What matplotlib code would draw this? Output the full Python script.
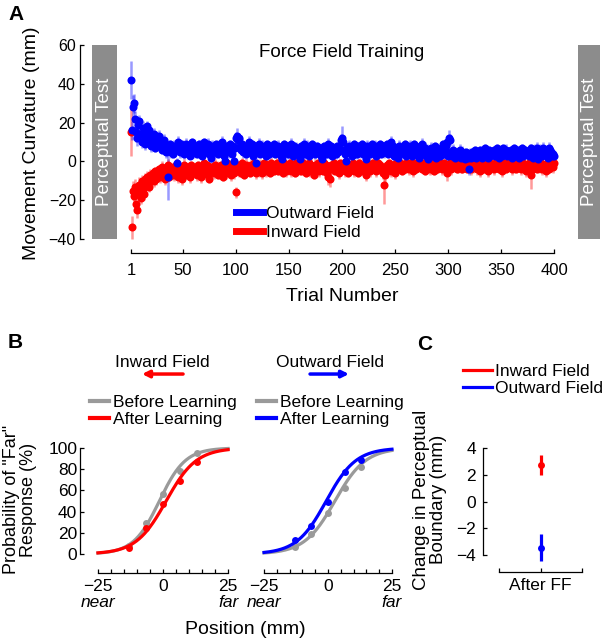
import matplotlib
matplotlib.use("Agg")
import matplotlib.pyplot as plt
import numpy as np
from matplotlib.lines import Line2D
from matplotlib.patches import Rectangle

plt.rcParams["font.family"] = ["Liberation Sans", "DejaVu Sans"]
plt.rcParams["axes.unicode_minus"] = True

# ---- panel A: movement curvature per trial (mm) ----
OUTWARD_CURV = [
    42, 16, 28, 30, 22, 15, 12, 19, 21, 14, 10, 17, 13, 9, 15, 18, 11, 16, 14, 8,
    12, 10, 14, 7, 11, 9, 13, 8, 10, 6, 9, 11, 7, 5, 8, -8, 6, 9, 5, 7,
    4, 8, 6, -1, 10, 7, 5, 9, 6, 8, 4, 7, 9, 5, 6, 8, 3, 7, 10, 5,
    6, 8, 4, 7, 9, 5, 6, 3, 8, 10, 5, 7, 6, 9, 4, 2, 8, 6, 7, 5,
    9, 6, 4, 8, 7, 5, 10, 6, 3, 0, 7, 8, 5, 9, 6, 4, 8, 0, 7, 12,
    13, 11, 12, 8, 6, 9, 5, 7, 4, 8, 6, 10, 5, 7, 9, 3, 6, 8, -1, 5,
    7, 9, 4, 6, 8, 5, 7, 3, 9, 6, 4, 8, 5, 7, 6, 9, 4, 7, 5, 8,
    6, 3, 1, 7, 9, 5, 6, 8, 4, 7, 5, 9, 6, 3, 8, 5, 7, 4, 6, 1,
    8, 5, 7, 9, 4, 6, 8, 5, 3, 7, 6, 9, 5, 7, 4, 8, 6, 5, 7, 3,
    1, 6, 8, 5, 7, 4, 9, 6, 5, 8, 3, 7, 6, 4, 8, 5, 7, 6, 11, 12,
    10, 6, 4, 0, 7, 5, 8, 6, 3, 7, 9, 5, 6, 4, 8, 7, 5, 6, 9, 4,
    7, 5, 1, 8, 6, 4, 7, 9, 5, 6, 8, 3, 7, 5, 6, 9, 4, 7, 8, 5,
    6, 9, 4, 7, 5, 10, 6, 8, 3, 7, 5, 6, 2, 8, 4, 7, 6, 5, 9, 3,
    6, 4, 7, 8, 5, 3, 6, 9, 4, 7, 5, 6, 2, 8, 9, 5, 4, 7, 3, 6,
    1, 5, 4, 7, 3, 6, 5, 8, 2, 4, 6, 3, 7, 5, 9, 4, 6, 8, 10, 3,
    12, 11, 5, 3, 6, 4, 2, 5, 3, 4, 6, 2, 5, 3, 4, 1, 5, 3, 2, -4,
    4, 2, 5, 3, 6, 2, 4, 5, 3, 6, 4, 2, 5, 3, 7, 4, 5, 2, 6, 3,
    5, 4, 6, 3, 5, 7, 4, 2, 6, 5, 3, 7, 4, 5, 6, 3, 5, 4, 6, 2,
    5, 7, 3, 4, 6, 5, 2, 6, 4, 7, 3, 5, 6, 4, 5, 3, 6, 7, 4, 2,
    5, 6, 3, 7, 1, 4, 6, 5, 3, 7, 4, 6, 5, 2, 7, 6, 5, 3, 4, 3,
]
OUTWARD_ERR = [
    10, 5, 6, 5, 4, 5, 4, 4, 3, 4, 3, 4, 3, 3, 4, 3, 3, 3, 3, 3,
    3, 3, 3, 2, 3, 3, 3, 2, 3, 2, 3, 3, 2, 3, 3, 12, 3, 2, 3, 3,
    2, 3, 2, 3, 3, 2, 3, 2, 2, 3, 3, 2, 3, 2, 3, 2, 2, 3, 2, 3,
    3, 2, 2, 3, 2, 3, 3, 2, 3, 2, 2, 3, 2, 3, 2, 3, 3, 2, 2, 3,
    2, 3, 2, 3, 3, 2, 3, 2, 2, 3, 3, 2, 3, 2, 3, 2, 2, 3, 2, 3,
    4, 3, 2, 3, 2, 3, 3, 2, 3, 2, 2, 3, 2, 3, 2, 3, 3, 2, 2, 3,
    2, 3, 2, 3, 3, 2, 3, 2, 2, 3, 3, 2, 3, 2, 3, 2, 2, 3, 2, 3,
    3, 2, 2, 3, 2, 3, 3, 2, 3, 2, 2, 3, 2, 3, 2, 3, 3, 2, 2, 3,
    2, 3, 2, 3, 3, 2, 3, 2, 2, 3, 3, 2, 3, 2, 3, 2, 2, 3, 2, 3,
    2, 3, 2, 3, 2, 2, 3, 2, 3, 2, 3, 2, 2, 3, 2, 3, 2, 2, 3, 6,
    3, 2, 2, 3, 2, 3, 3, 2, 3, 2, 2, 3, 2, 3, 2, 3, 3, 2, 2, 3,
    2, 3, 2, 3, 3, 2, 3, 2, 2, 3, 3, 2, 3, 2, 3, 2, 2, 3, 2, 3,
    3, 2, 2, 3, 2, 3, 3, 2, 3, 2, 2, 3, 2, 3, 2, 3, 3, 2, 2, 3,
    2, 3, 2, 3, 3, 2, 3, 2, 2, 3, 3, 2, 3, 2, 3, 2, 2, 3, 2, 3,
    3, 2, 2, 3, 2, 3, 3, 2, 3, 2, 2, 3, 2, 3, 2, 3, 3, 2, 2, 3,
    4, 3, 2, 3, 3, 2, 3, 2, 2, 3, 3, 2, 3, 2, 3, 2, 2, 3, 2, 3,
    3, 2, 2, 3, 2, 3, 3, 2, 3, 2, 2, 3, 2, 3, 2, 3, 3, 2, 2, 3,
    2, 3, 2, 3, 3, 2, 3, 2, 2, 3, 3, 2, 3, 2, 3, 2, 2, 3, 2, 3,
    3, 2, 2, 3, 2, 3, 3, 2, 3, 2, 2, 3, 2, 3, 2, 3, 3, 2, 2, 3,
    2, 3, 2, 3, 3, 2, 3, 2, 2, 3, 3, 2, 3, 2, 3, 2, 2, 3, 2, 3,
]
INWARD_CURV = [
    15, -34, -15, -18, -13, -22, -25, -16, -12, -19, -10, -14, -17, -9, -12, -8, -11, -13, -7, -10,
    -8, -6, -10, -5, -9, -7, -4, -8, -6, -3, -7, -5, -9, -4, -6, -2, -8, -5, -3, -6,
    -4, -7, -2, -5, -8, -3, -6, -4, -9, -5, -2, -7, -4, -6, -3, -5, -8, -2, -6, -4,
    -5, -3, -7, -2, -6, -4, -8, -3, -5, -1, -6, -4, -2, -7, -9, -3, -5, -4, -6, -2,
    -5, -3, -7, -4, -6, -2, -5, -8, -3, -4, -6, -1, -5, -3, -7, -4, -2, -6, -3, -16,
    -4, -2, -5, -3, -6, -1, -4, -7, -2, -5, -3, -4, -6, -2, -5, -3, -1, -4, -6, -2,
    -3, -5, -2, -4, -6, -1, -3, -5, -2, -4, -3, -6, -1, -4, -2, -5, -3, -4, -1, -5,
    -3, -2, -4, -6, -1, -3, -5, -2, -4, -3, -1, -5, -2, -4, -3, -6, -1, -3, -4, -2,
    -5, -3, -1, -4, -2, -6, -3, -4, -1, -5, -2, -3, -4, -7, -2, -3, -1, -5, -4, -2,
    -3, -5, -1, -4, -2, -6, -8, -3, -9, -2, -4, -1, -5, -3, -2, -4, -6, -1, -3, -2,
    -4, -2, -5, -1, -3, -6, -2, -4, -3, -1, -5, -2, -4, -3, -6, -1, -2, -4, -3, -5,
    -2, -4, -7, -1, -3, -5, -2, -4, -1, -3, -2, -5, -3, -1, -4, -2, -3, -5, -6, -12,
    -7, -2, -4, -1, -3, -5, -2, -4, -3, -6, -1, -3, -2, -4, -1, -3, -5, -2, -4, -1,
    -3, -2, -4, -1, -3, -2, -5, -1, -3, -4, -2, -1, -3, -2, -4, -1, -3, -5, -2, -1,
    -3, -2, -4, -1, -2, -3, -5, -1, -2, -4, -3, -1, -2, -4, -3, -1, -2, -3, -6, -2,
    -3, -1, -4, -2, -3, -1, -2, -4, -3, -2, -1, -3, -4, -2, -1, -3, -2, -4, -1, -3,
    -2, -4, -1, -3, -2, -1, -4, -3, -2, -5, -1, -3, -2, -4, -1, -2, -3, -5, -2, -1,
    -3, -2, -4, -1, -3, -2, -1, -4, -3, -2, -5, -1, -3, -2, -4, -1, -2, -3, -1, -4,
    -2, -3, -1, -4, -2, -3, -1, -2, -4, -3, -1, -2, -3, -5, -2, -1, -3, -7, -2, -4,
    -1, -3, -2, -4, -1, -2, -3, -1, -4, -2, -3, -5, -1, -2, -4, -3, -1, -2, -3, -1,
]
INWARD_ERR = [
    12, 6, 5, 4, 4, 4, 4, 3, 4, 3, 3, 3, 3, 3, 3, 3, 3, 3, 3, 3,
    3, 2, 3, 2, 3, 3, 2, 3, 2, 3, 3, 2, 3, 2, 3, 3, 2, 3, 2, 3,
    2, 3, 3, 2, 3, 2, 2, 3, 3, 2, 3, 2, 3, 3, 2, 2, 3, 2, 3, 2,
    3, 2, 3, 2, 2, 3, 3, 2, 3, 2, 3, 3, 2, 3, 2, 2, 3, 2, 3, 3,
    2, 3, 2, 3, 3, 2, 3, 2, 2, 3, 3, 2, 3, 2, 3, 2, 2, 3, 2, 3,
    3, 2, 3, 2, 2, 3, 3, 2, 3, 2, 3, 3, 2, 3, 2, 2, 3, 2, 3, 3,
    2, 3, 3, 2, 3, 2, 2, 3, 3, 2, 3, 2, 3, 3, 2, 2, 3, 2, 3, 2,
    3, 2, 3, 2, 2, 3, 3, 2, 3, 2, 3, 3, 2, 3, 2, 2, 3, 2, 3, 3,
    2, 3, 2, 3, 3, 2, 3, 2, 2, 3, 3, 2, 3, 2, 3, 2, 2, 3, 2, 3,
    3, 2, 3, 2, 2, 3, 4, 2, 4, 2, 3, 3, 2, 3, 2, 2, 3, 2, 3, 3,
    2, 3, 3, 2, 3, 2, 2, 3, 3, 2, 3, 2, 3, 3, 2, 2, 3, 2, 3, 2,
    3, 2, 3, 2, 2, 3, 3, 2, 3, 2, 3, 3, 2, 3, 2, 2, 3, 2, 3, 10,
    4, 2, 3, 2, 3, 3, 2, 3, 2, 3, 3, 2, 3, 2, 3, 2, 2, 3, 2, 3,
    3, 2, 3, 2, 2, 3, 3, 2, 3, 2, 3, 3, 2, 3, 2, 2, 3, 2, 3, 3,
    2, 3, 3, 2, 3, 2, 2, 3, 3, 2, 3, 2, 3, 3, 2, 2, 3, 2, 4, 2,
    3, 2, 3, 2, 2, 3, 3, 2, 3, 2, 3, 3, 2, 3, 2, 2, 3, 2, 3, 3,
    2, 3, 2, 3, 3, 2, 3, 2, 2, 3, 3, 2, 3, 2, 3, 2, 2, 3, 2, 3,
    3, 2, 3, 2, 2, 3, 3, 2, 3, 2, 3, 3, 2, 3, 2, 2, 3, 2, 3, 3,
    2, 3, 3, 2, 3, 2, 2, 3, 3, 2, 3, 2, 3, 3, 2, 2, 3, 7, 3, 2,
    3, 2, 3, 2, 2, 3, 3, 2, 3, 2, 3, 3, 2, 3, 2, 2, 3, 2, 3, 3,
]
TRIAL_TICKS = [1, 50, 100, 150, 200, 250, 300, 350, 400]

# ---- panel B: psychometric data (probability of "far" response, %) ----
PROBE_POS = [-13, -6.5, 0, 6.5, 13]
IN_BEFORE = [8, 29, 57, 78, 95]
IN_AFTER = [6, 25, 47, 69, 87]
OUT_BEFORE = [7, 19, 39, 62, 82]
OUT_AFTER = [13, 26, 49, 77, 89]
# logistic fits: (boundary mm, width mm)
IN_BEFORE_FIT = (-1.4, 5.0)
IN_AFTER_FIT = (1.2, 5.8)
OUT_BEFORE_FIT = (2.7, 6.0)
OUT_AFTER_FIT = (-0.7, 5.8)

# ---- panel C: change in perceptual boundary (mm) ----
SHIFT_LABELS = ["Inward Field", "Outward Field"]
SHIFT = [2.7, -3.45]
SHIFT_ERR = [0.75, 1.0]

BLUE = (0, 0, 1)
RED = (1, 0, 0)
GRAY = "#9a9a9a"

W, H = 602, 639


def box(x0, y0, x1, y1):
    return [x0 / W, 1 - y1 / H, (x1 - x0) / W, (y1 - y0) / H]


def style(ax, size=11.5, pad=3):
    for s in ["top", "right"]:
        ax.spines[s].set_visible(False)
    ax.tick_params(direction="in", length=3, width=0.9, labelsize=size, pad=pad)
    ax.tick_params(which="minor", direction="in", length=3, width=0.9)
    for s in ["left", "bottom"]:
        ax.spines[s].set_linewidth(0.9)


def logistic(x, fit):
    return 100 / (1 + np.exp(-(x - fit[0]) / fit[1]))


fig = plt.figure(figsize=(W / 100, H / 100), dpi=100)

# ---------------- panel A ----------------
ax = fig.add_axes(box(80, 45, 560, 253))
style(ax, size=11.5)
t_in = np.arange(1, len(INWARD_CURV) + 1)
t_out = np.arange(1, len(OUTWARD_CURV) + 1)
ax.errorbar(t_in, INWARD_CURV, yerr=INWARD_ERR, fmt="none",
            ecolor=(1, 0, 0, 0.4), elinewidth=1.8)
ax.errorbar(t_out, OUTWARD_CURV, yerr=OUTWARD_ERR, fmt="none",
            ecolor=(0, 0, 1, 0.4), elinewidth=1.8)
ax.plot(t_in, INWARD_CURV, "o", color=RED, ms=5.8, mec="none")
ax.plot(t_out, OUTWARD_CURV, "o", color=BLUE, ms=5.8, mec="none")
ax.set_xlim(-47.1, 405.6)
ax.set_ylim(-47.2, 60)
ax.spines["left"].set_bounds(-40, 60)
ax.spines["bottom"].set_bounds(1, 400)
ax.set_yticks([-40, -20, 0, 20, 40, 60])
ax.set_xticks(TRIAL_TICKS)
ax.tick_params(axis="x", labelsize=12, pad=7)
ax.set_ylabel("Movement Curvature (mm)", fontsize=14)
ax.yaxis.label.set_verticalalignment("center")
ax.yaxis.set_label_coords(-0.1, 0.53)
ax.set_xlabel("Trial Number", fontsize=14)
ax.xaxis.label.set_verticalalignment("center")
ax.xaxis.set_label_coords(0.546, -0.21)
ax.text(200, 56, "Force Field Training", ha="center", va="center", fontsize=13.5)
for x0, x1 in [(-35.8, -12.2), (422.7, 443.5)]:
    ax.add_patch(Rectangle((x0, -40), x1 - x0, 100, color="#8c8c8c",
                           clip_on=False, lw=0))
    ax.text((x0 + x1) / 2, 10, "Perceptual Test", rotation=90, color="white",
            ha="center", va="center", fontsize=13.5, clip_on=False)
handles = [Line2D([], [], color=BLUE, lw=5), Line2D([], [], color=RED, lw=5)]
ax.legend(handles, ["Outward Field", "Inward Field"], loc="upper left",
          bbox_to_anchor=(0.325, 0.225), frameon=False, fontsize=12.5,
          handlelength=1.55, handletextpad=0.2, labelspacing=0.2,
          borderpad=0, borderaxespad=0)
fig.text(8 / W, 1 - 14 / H, "A", fontsize=15, fontweight="bold", va="center")

# ---------------- panel B ----------------
xs = np.linspace(-25, 25, 200)
panels = [
    (box(80, 440, 232, 573), (-31.9, 26.5), "Inward Field", RED,
     IN_BEFORE, IN_AFTER, IN_BEFORE_FIT, IN_AFTER_FIT, (0.678, 0.408), 0.066),
    (box(262, 440, 394, 573), (-25.8, 25.8), "Outward Field", BLUE,
     OUT_BEFORE, OUT_AFTER, OUT_BEFORE_FIT, OUT_AFTER_FIT, (0.364, 0.659), -0.038),
]
for i, (pos, xlim, title, col, before, after, fb, fa, arr, lgx) in enumerate(panels):
    ax = fig.add_axes(pos)
    style(ax, size=12.5, pad=2)
    ax.plot(xs, logistic(xs, fb), color=GRAY, lw=2.3)
    ax.plot(PROBE_POS, before, "o", color=GRAY, ms=5, mec="none")
    ax.plot(xs, logistic(xs, fa), color=col, lw=2.3)
    ax.plot(PROBE_POS, after, "o", color=col, ms=5, mec="none")
    ax.set_xlim(*xlim)
    ax.set_ylim(-17.9, 107.5)
    ax.spines["bottom"].set_bounds(-25, 25)
    ax.set_xticks([-25, 0, 25])
    ax.set_xticks(np.arange(-25, 26, 5), minor=True)
    ax.set_xticklabels(["\u221225", "0", "25"])
    ax.tick_params(axis="x", pad=4)
    if i == 0:
        ax.spines["left"].set_bounds(0, 100)
        ax.set_yticks([0, 20, 40, 60, 80, 100])
        ax.set_ylabel('Probability of "Far"\nResponse (%)', fontsize=13,
                      linespacing=1.0)
        ax.yaxis.label.set_verticalalignment("center")
        ax.yaxis.set_label_coords(-0.395, 0.55)
    else:
        ax.spines["left"].set_visible(False)
        ax.set_yticks([])
    tr = ax.get_xaxis_transform()
    ax.text(-25, -0.22, "near", style="italic", fontsize=12.5, ha="center",
            va="center", transform=tr)
    ax.text(25, -0.22, "far", style="italic", fontsize=12.5, ha="center",
            va="center", transform=tr)
    ax.text((arr[0] + arr[1]) / 2, 1.586, title,
            transform=ax.transAxes, ha="center", va="center", fontsize=12.5)
    ax.annotate("", xy=(arr[1], 1.496), xytext=(arr[0], 1.496),
                xycoords="axes fraction", annotation_clip=False,
                arrowprops=dict(arrowstyle="-|>", color=col, lw=2.5,
                                mutation_scale=10, shrinkA=0, shrinkB=0))
    lh = [Line2D([], [], color=GRAY, lw=3), Line2D([], [], color=col, lw=3)]
    ax.legend(lh, ["Before Learning", "After Learning"], loc="upper left",
              bbox_to_anchor=(lgx, 1.34), frameon=False, fontsize=12.5,
              handlelength=1.1, handletextpad=0.2, labelspacing=0.12,
              borderpad=0, borderaxespad=0)
fig.text(245 / W, 1 - 630 / H, "Position (mm)", fontsize=14, ha="center",
         va="center")
fig.text(8 / W, 1 - 343 / H, "B", fontsize=15, fontweight="bold", va="center")

# ---------------- panel C ----------------
ax = fig.add_axes(box(483, 440, 585, 572))
style(ax, size=12.5, pad=5)
for val, err, col in zip(SHIFT, SHIFT_ERR, [RED, BLUE]):
    ax.errorbar([1], [val], yerr=[err], fmt="o", color=col, ms=5, mec="none",
                elinewidth=2.3, capsize=0)
ax.set_xlim(0.307, 1.536)
ax.set_ylim(-5.27, 4.6)
ax.spines["left"].set_bounds(-4, 4)
ax.spines["bottom"].set_bounds(0.5, 1.5)
ax.set_yticks([-4, -2, 0, 2, 4])
ax.set_xticks([1])
ax.set_xticks([0.5, 1.5], minor=True)
ax.set_xticklabels(["After FF"])
ax.tick_params(axis="x", pad=4)
ax.set_ylabel("Change in Perceptual\nBoundary (mm)", fontsize=13.5, linespacing=1.0)
ax.yaxis.label.set_verticalalignment("center")
ax.yaxis.set_label_coords(-0.52, 0.55)
ch = [Line2D([], [], color=RED, lw=2.3), Line2D([], [], color=BLUE, lw=2.3)]
ax.legend(ch, SHIFT_LABELS, loc="upper left", bbox_to_anchor=(-0.196, 1.575),
          frameon=False, fontsize=12.5, handlelength=1.65, handletextpad=0.2,
          labelspacing=0.12, borderpad=0, borderaxespad=0)
fig.text(417 / W, 1 - 345 / H, "C", fontsize=15, fontweight="bold", va="center")

fig.savefig("out.png", dpi=100)
